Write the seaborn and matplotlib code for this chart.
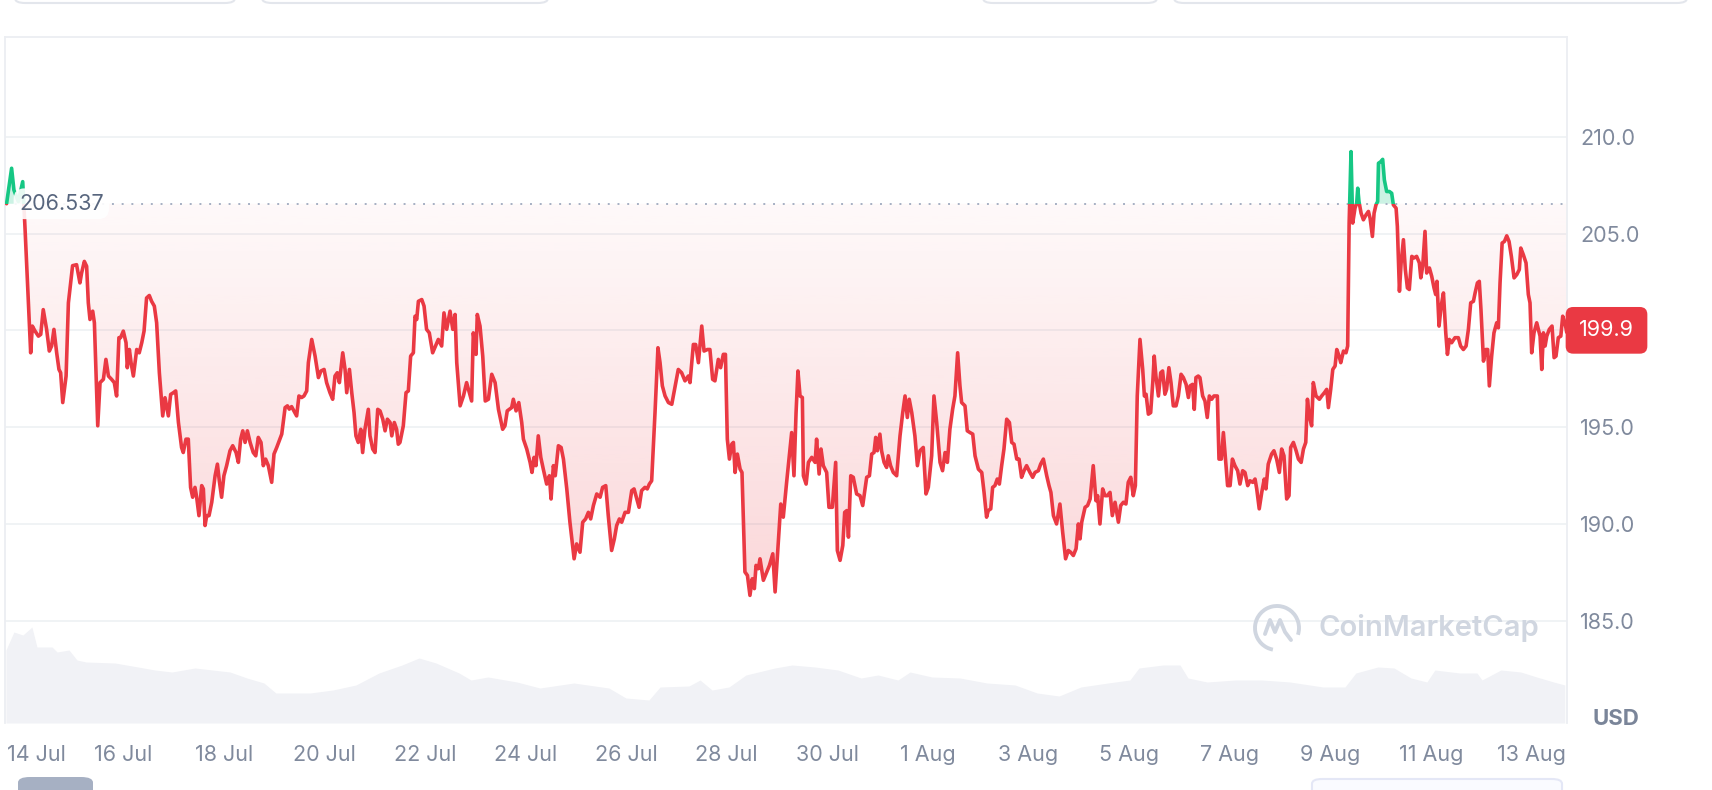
import numpy as np
import pandas as pd
import matplotlib
matplotlib.use('Agg')
import matplotlib.pyplot as plt
import matplotlib.dates as mdates
import matplotlib.transforms as mtransforms
from matplotlib.patches import Rectangle, PathPatch, FancyBboxPatch, Arc
from matplotlib.lines import Line2D
from matplotlib.path import Path
import seaborn as sns

# price (hours after 14 Jul 00:00, USD)
hours_wk1 = [-7.6, -5.2, -4.1, -2.0, 0.1, 1.2, 3.9, 4.7, 6.0, 7.6,
             8.7, 9.9, 11.5, 12.8, 13.9, 15.0, 16.3, 17.4, 18.2, 19.2,
             20.8, 21.9, 23.9, 25.8, 27.4, 28.2, 29.5, 30.6, 31.4, 32.2,
             33.5, 34.3, 35.9, 37.0, 38.6, 39.8, 41.0, 42.5, 43.8, 44.9,
             46.0, 46.8, 48.1, 49.4, 50.0, 51.0, 51.8, 52.9, 54.5, 55.7,
             56.9, 58.0, 59.2, 60.5, 61.6, 62.9, 64.0, 65.3, 66.9, 68.0,
             69.6, 70.7, 72.0, 73.1, 74.4, 75.9, 76.7, 78.0, 79.1, 80.2,
             81.2, 82.3, 83.1, 84.2, 85.5, 86.3, 87.1, 87.9, 89.0, 90.3,
             91.9, 93.0, 93.9, 95.0, 96.1, 97.4, 99.0, 100.3, 101.9, 103.0,
             104.1, 105.1, 106.2, 107.3, 108.6, 110.1, 111.3, 112.5, 113.8, 114.9,
             116.0, 117.3, 118.9, 120.0, 121.3, 122.5, 123.7, 125.3, 126.4, 127.3,
             128.4, 129.5, 130.8, 131.9, 133.2, 134.3, 135.6, 136.4, 138.0, 139.6,
             141.2, 142.4, 143.9, 145.1, 146.7, 148.0, 149.1, 150.2, 151.2, 152.8,
             153.9, 154.7, 156.0, 157.1, 158.2, 159.1, 160.2, 161.4, 162.3, 163.4,
             165.0, 165.8, 167.1, 168.2, 169.5, 170.6, 171.9, 173.0, 174.1, 175.4,
             176.2, 177.4, 178.5, 179.3, 180.1, 181.7, 183.0, 184.1, 185.2, 186.5,
             187.3, 188.1, 188.9, 190.5, 191.6, 192.8, 194.1, 195.7]
price_wk1 = [206.54, 208.37, 207.25, 206.65, 207.68, 205.28, 198.84, 200.22, 199.96, 199.70,
             199.79, 201.07, 200.05, 198.93, 199.19, 200.05, 198.84, 197.98, 197.81, 196.27,
             197.64, 201.42, 203.34, 203.39, 202.45, 202.96, 203.56, 203.31, 201.42, 200.56,
             200.99, 200.39, 195.07, 197.30, 197.47, 198.50, 197.64, 197.47, 197.30, 196.61,
             199.62, 199.62, 199.96, 199.36, 198.07, 199.01, 198.33, 197.64, 199.01, 198.84,
             199.36, 199.96, 201.67, 201.80, 201.50, 201.25, 200.39, 197.81, 195.58, 196.52,
             195.58, 196.69, 196.78, 196.87, 195.24, 193.95, 193.69, 194.38, 194.38, 191.89,
             191.38, 191.89, 191.38, 190.43, 191.98, 191.81, 189.92, 190.43, 190.43, 191.12,
             192.49, 193.09, 192.23, 191.38, 192.49, 193.01, 193.78, 194.04, 193.69, 193.18,
             194.38, 194.81, 194.21, 194.81, 194.21, 193.69, 193.52, 194.47, 194.21, 193.01,
             193.35, 193.01, 192.15, 193.61, 193.95, 194.29, 194.64, 196.01, 196.10, 195.93,
             196.06, 195.84, 195.58, 196.61, 196.53, 196.61, 196.87, 198.33, 199.53, 198.67,
             197.56, 197.90, 197.98, 197.30, 196.78, 196.44, 197.64, 197.81, 197.30, 198.84,
             197.98, 196.78, 197.98, 196.78, 195.75, 194.55, 194.21, 194.89, 193.69, 194.89,
             195.92, 194.55, 193.87, 193.69, 195.92, 195.84, 195.41, 194.81, 195.41, 195.24,
             194.55, 195.24, 194.89, 194.12, 194.21, 195.07, 196.78, 196.87, 198.67, 198.84,
             200.73, 200.56, 201.50, 201.59, 201.25, 200.05, 199.87, 198.84]

hours_wk2 = [198.4, 200.0, 201.1, 202.4, 204.0, 205.3, 206.4, 207.2, 208.8, 210.4,
             211.9, 213.2, 214.3, 215.1, 216.4, 217.0, 218.3, 219.6, 220.8, 222.3,
             223.9, 225.5, 227.1, 229.1, 230.2, 231.3, 233.4, 234.2, 235.5, 236.8,
             238.2, 239.0, 240.6, 242.2, 243.1, 244.1, 245.0, 246.1, 247.3, 248.5,
             250.1, 251.4, 252.2, 253.3, 254.2, 255.7, 257.0, 258.1, 259.7, 261.2,
             263.2, 264.4, 266.0, 267.3, 268.7, 270.0, 271.1, 272.4, 274.0, 275.6,
             276.8, 278.3, 279.5, 281.1, 282.4, 283.5, 284.8, 285.9, 287.5, 289.1,
             290.7, 291.8, 293.1, 294.2, 295.4, 297.0, 298.1, 299.1, 300.2, 301.8,
             303.2, 304.2, 305.3, 306.6, 308.2, 309.8, 311.3, 312.9, 314.5, 316.1,
             317.7, 318.5, 320.1, 321.2, 322.5, 324.1, 325.2, 326.8, 328.0, 329.3,
             330.4, 332.0, 333.1, 334.4, 335.4, 336.3, 337.3, 338.4, 339.2, 340.0,
             341.1, 342.4, 343.3, 344.7, 345.9, 347.1, 348.2, 349.2, 350.0, 351.1,
             351.9, 353.5, 355.1, 356.4, 358.0, 359.1, 360.7, 361.8, 363.0, 364.6,
             367.0, 368.1, 369.1, 370.0, 371.0, 372.1, 372.6, 373.9, 375.0, 376.6,
             378.2, 378.9, 380.1, 381.0, 382.1, 383.7, 384.8, 386.4, 388.0, 388.8,
             390.1, 391.4, 392.3, 393.3, 394.1, 395.2, 396.4, 398.0, 399.6, 400.9]
price_wk2 = [199.53, 199.19, 200.90, 200.05, 200.99, 200.05, 200.82, 198.33, 196.10, 196.61,
             197.30, 196.78, 196.35, 199.87, 198.76, 200.82, 200.22, 198.67, 196.35, 196.44,
             197.73, 197.30, 195.92, 194.89, 195.07, 195.84, 196.01, 196.44, 195.84, 196.27,
             195.24, 194.38, 193.87, 193.18, 192.66, 193.44, 193.01, 194.55, 193.44, 192.83,
             192.06, 192.49, 191.29, 193.01, 192.49, 194.04, 193.95, 193.35, 191.81, 190.09,
             188.20, 188.97, 188.54, 190.09, 190.26, 190.60, 190.26, 190.95, 191.55, 191.38,
             191.89, 191.98, 190.43, 188.63, 189.23, 189.92, 190.26, 190.09, 190.60, 190.60,
             191.72, 191.81, 191.29, 190.86, 191.72, 191.89, 191.81, 192.06, 192.23, 195.75,
             199.10, 198.33, 197.13, 196.61, 196.27, 196.18, 197.04, 197.98, 197.81, 197.39,
             197.64, 197.30, 199.27, 199.27, 198.33, 200.22, 198.93, 199.01, 199.01, 197.47,
             197.39, 198.50, 198.07, 198.76, 198.76, 194.38, 193.35, 194.12, 194.21, 192.66,
             193.61, 192.83, 192.66, 187.52, 187.34, 186.31, 187.17, 186.66, 187.86, 187.69,
             188.20, 187.09, 187.52, 187.86, 188.46, 186.49, 189.23, 191.03, 190.35, 192.15,
             194.72, 192.49, 195.75, 197.90, 196.61, 196.53, 192.49, 192.06, 193.18, 193.44,
             193.18, 194.38, 192.58, 193.87, 193.01, 192.66, 190.86, 190.86, 193.18, 188.63,
             188.12, 188.89, 190.60, 190.69, 189.32, 192.49, 192.41, 191.55, 191.46, 190.95]

hours_wk3 = [402.8, 404.1, 405.2, 406.3, 407.1, 407.9, 409.1, 409.9, 411.1, 412.3,
             413.1, 414.2, 415.5, 417.1, 418.7, 420.0, 421.1, 422.2, 423.1, 424.3,
             425.8, 427.0, 428.2, 429.8, 431.1, 432.2, 433.8, 434.9, 436.2, 437.8,
             439.0, 440.2, 441.3, 442.5, 443.8, 444.9, 446.2, 447.3, 448.1, 449.7,
             450.8, 452.1, 453.4, 454.5, 456.1, 457.7, 458.8, 460.0, 460.8, 462.0,
             462.9, 464.0, 465.1, 466.1, 467.2, 468.3, 469.6, 470.9, 472.0, 473.1,
             474.4, 475.5, 476.7, 477.9, 479.1, 480.7, 482.0, 483.1, 484.7, 485.8,
             487.1, 488.7, 489.8, 490.7, 491.9, 493.4, 495.0, 496.3, 497.7, 499.0,
             500.1, 501.4, 502.7, 503.8, 504.6, 505.4, 507.0, 508.2, 509.4, 510.9,
             512.2, 513.0, 514.1, 515.4, 516.5, 517.6, 518.9, 520.0, 521.3, 522.9,
             524.0, 525.3, 526.5, 527.6, 528.8, 530.0, 531.0, 531.9, 533.2, 534.5,
             535.3, 536.1, 537.2, 538.3, 539.3, 540.0, 540.8, 542.0, 543.1, 544.0,
             545.1, 545.9, 547.0, 548.0, 549.1, 550.4, 551.5, 552.8, 553.9, 555.2,
             556.3, 557.1, 558.3, 559.1, 559.9, 561.0, 561.8, 563.1, 564.2, 565.3,
             566.3, 567.4, 568.5, 570.1, 570.9, 572.0, 573.0, 574.1, 575.0, 576.2,
             577.3, 578.5, 579.8, 580.9, 582.2, 583.3, 584.6, 585.7, 587.0, 588.1,
             588.9, 590.1, 591.3, 592.5, 593.3, 594.4, 596.0, 597.1, 598.4, 599.7,
             600.8, 601.9, 603.2, 604.3, 605.1, 606.4]
price_wk3 = [192.41, 192.49, 193.61, 193.69, 194.47, 193.78, 194.64, 193.78, 193.18, 192.92,
             193.52, 193.01, 192.66, 192.49, 194.55, 195.75, 196.61, 195.50, 196.44, 195.75,
             194.55, 193.01, 193.78, 193.95, 191.55, 191.89, 193.52, 196.61, 195.24, 193.18,
             192.75, 193.69, 193.18, 194.89, 195.92, 196.61, 198.84, 197.13, 196.27, 196.10,
             194.81, 194.72, 194.64, 193.52, 192.83, 192.66, 191.63, 190.35, 190.69, 190.78,
             191.89, 191.98, 192.32, 192.06, 193.01, 193.87, 195.41, 195.24, 194.21, 194.12,
             193.35, 193.35, 192.41, 192.75, 193.01, 192.66, 192.41, 192.66, 192.75, 193.09,
             193.35, 192.49, 191.98, 191.63, 190.43, 190.00, 191.03, 189.58, 188.20, 188.63,
             188.54, 188.37, 188.72, 190.00, 189.23, 190.09, 190.86, 190.95, 191.29, 193.01,
             191.20, 191.46, 190.00, 191.81, 191.46, 191.46, 191.63, 190.43, 191.12, 190.09,
             190.95, 191.12, 191.03, 192.15, 192.41, 191.46, 191.98, 196.61, 199.53, 197.98,
             196.61, 196.70, 195.67, 195.75, 197.30, 198.67, 197.64, 196.61, 197.81, 197.90,
             196.70, 196.95, 198.07, 197.30, 196.10, 196.10, 196.61, 197.73, 197.56, 197.21,
             196.53, 197.13, 197.21, 195.92, 197.56, 197.64, 197.56, 196.61, 196.35, 195.50,
             196.61, 196.44, 196.61, 196.61, 193.35, 193.35, 194.72, 193.18, 191.98, 191.98,
             193.35, 193.01, 192.75, 192.06, 192.75, 192.66, 191.98, 192.23, 192.15, 192.32,
             191.81, 190.78, 191.63, 192.32, 191.81, 193.09, 193.61, 193.78, 193.35, 192.66,
             193.87, 193.52, 191.29, 191.46, 193.95, 194.21]

hours_wk4 = [607.7, 608.8, 610.1, 611.2, 612.3, 613.1, 614.0, 615.1, 615.9, 617.2,
             618.8, 619.9, 621.2, 622.3, 623.1, 624.2, 625.2, 626.3, 627.1, 628.2,
             629.0, 630.3, 631.5, 632.3, 633.0, 633.9, 634.7, 635.8, 636.6, 637.1,
             637.7, 638.7, 639.8, 641.1, 642.2, 643.0, 644.1, 644.9, 645.8, 646.6,
             647.0, 648.1, 649.0, 649.8, 650.9, 652.2, 653.3, 654.1, 655.4, 656.0,
             657.0, 657.8, 658.9, 659.8, 660.8, 661.7, 662.9, 664.0, 665.2, 666.5,
             667.2, 668.1, 669.2, 670.0, 671.3, 672.4, 673.5, 674.3, 674.9, 675.9,
             676.9, 678.0, 679.1, 679.9, 680.8, 681.9, 683.5, 685.1, 686.2, 687.5,
             688.8, 689.9, 691.0, 692.3, 693.1, 694.2, 695.1, 695.9, 697.1, 698.2,
             699.1, 699.9, 701.0, 702.1, 703.4, 704.2, 705.0, 706.0, 707.1, 708.2,
             709.3, 710.4, 711.7, 713.0, 714.2, 714.9, 716.1, 717.4, 718.5, 719.3,
             720.1, 721.2, 722.5, 723.3, 724.1, 724.9, 725.7, 726.5, 727.3, 728.5,
             729.8, 730.8, 731.7, 732.8, 734.0, 734.9, 736.0, 736.8]
price_wk4 = [193.78, 193.35, 193.18, 193.87, 194.21, 196.44, 195.58, 195.07, 197.30, 196.61,
             196.44, 196.61, 196.78, 196.95, 196.01, 196.95, 197.98, 198.16, 199.01, 198.67,
             198.33, 198.93, 198.84, 199.19, 205.54, 209.23, 205.54, 206.31, 206.57, 207.34,
             206.65, 206.05, 205.71, 205.97, 206.14, 205.79, 204.85, 206.05, 206.48, 206.65,
             208.63, 208.71, 208.83, 207.77, 207.17, 207.17, 207.08, 206.48, 206.31, 205.37,
             202.02, 203.48, 204.68, 203.14, 202.19, 202.11, 203.82, 203.74, 203.82, 203.48,
             202.71, 203.31, 205.11, 202.96, 203.22, 202.79, 202.19, 201.85, 202.53, 200.22,
             201.25, 201.93, 199.87, 198.76, 199.53, 199.36, 199.62, 199.62, 199.19, 199.01,
             199.19, 200.05, 201.42, 201.50, 201.93, 202.45, 202.53, 201.07, 198.41, 199.01,
             199.01, 197.13, 198.67, 199.87, 200.39, 200.13, 202.45, 204.51, 204.59, 204.88,
             204.59, 203.82, 202.71, 202.88, 203.14, 204.25, 203.91, 203.48, 201.85, 201.42,
             198.84, 199.87, 200.39, 200.05, 199.70, 197.98, 199.87, 199.19, 199.70, 200.05,
             200.22, 198.59, 198.67, 199.62, 199.70, 200.73, 200.39, 199.90]

# volume strip at the bottom (millions, rough)
vol_hours = [-7.9, -4.1, 0.2, 4.5, 6.9, 14.1, 16.5, 22.2, 26.0, 30.3,
             44.1, 55.1, 63.2, 71.3, 82.3, 99.0, 107.1, 115.2, 120.9, 137.2,
             148.1, 159.1, 170.1, 181.1, 189.2, 197.3, 208.3, 214.0, 222.1, 235.9,
             246.9, 263.1, 279.8, 287.9, 298.9, 304.2, 318.0, 323.3, 329.0, 337.1,
             345.2, 359.0, 367.2, 378.1, 389.1, 400.1, 408.2, 417.7, 423.5, 433.9,
             447.3, 460.2, 473.6, 484.1, 494.6, 505.0, 517.9, 528.4, 532.7, 544.2,
             552.3, 556.1, 565.2, 578.6, 591.4, 604.8, 620.5, 631.0, 636.2, 646.7,
             654.4, 662.5, 670.1, 673.9, 685.8, 694.0, 696.4, 705.4, 714.9, 722.5,
             730.6, 735.9]
vol_musd = [365, 455, 440, 480, 380, 380, 355, 365, 315, 305,
            300, 280, 265, 255, 275, 255, 225, 200, 150, 150,
            165, 190, 250, 290, 325, 300, 250, 215, 230, 205,
            175, 200, 175, 125, 115, 180, 185, 215, 165, 180,
            240, 275, 290, 280, 265, 225, 240, 215, 255, 230,
            225, 200, 190, 150, 135, 180, 200, 215, 275, 290,
            290, 225, 205, 215, 215, 205, 180, 180, 250, 280,
            275, 225, 205, 265, 250, 250, 215, 265, 255, 230,
            205, 190]

open_price = 206.537
last_price = 199.9
price_ticks = [185, 190, 195, 200, 205, 210]
tick_dates = ['2025-07-14', '2025-07-16', '2025-07-18', '2025-07-20', '2025-07-22',
              '2025-07-24', '2025-07-26', '2025-07-28', '2025-07-30', '2025-08-01',
              '2025-08-03', '2025-08-05', '2025-08-07', '2025-08-09', '2025-08-11',
              '2025-08-13']
tick_labels = ['14 Jul', '16 Jul', '18 Jul', '20 Jul', '22 Jul', '24 Jul', '26 Jul',
               '28 Jul', '30 Jul', '1 Aug', '3 Aug', '5 Aug', '7 Aug', '9 Aug',
               '11 Aug', '13 Aug']

sns.set_theme(style='white')
plt.rcParams['font.family'] = ['Inter', 'DejaVu Sans']

RED = '#ea3943'
GREEN = '#16c784'
TXT = '#808a9d'
GRID = '#eff2f5'
FS = 15.5

start = pd.Timestamp('2025-07-14 00:00')
hours = hours_wk1 + hours_wk2 + hours_wk3 + hours_wk4
prices = np.array(price_wk1 + price_wk2 + price_wk3 + price_wk4)
df = pd.DataFrame({'time': start + pd.to_timedelta(hours, unit='h'), 'price': prices})
vol = pd.DataFrame({'time': start + pd.to_timedelta(vol_hours, unit='h'), 'volume': vol_musd})

fig = plt.figure(figsize=(17.12, 7.90), dpi=100)
rect = [5 / 1712, 1 - 723 / 790, 1562 / 1712, 686 / 790]
ax_vol = fig.add_axes(rect)
ax = fig.add_axes(rect, sharex=ax_vol)
ax.patch.set_alpha(0)

xmin = start + pd.Timedelta(hours=-8.35)
xmax = start + pd.Timedelta(hours=736.95)
ymin, ymax = 179.72, 215.15

# volume
ax_vol.fill_between(vol['time'], vol['volume'], 0, color='#f1f2f6', lw=0)
ax_vol.set_ylim(0, 3430)
ax_vol.set_axis_off()

# shaded area between price and the opening price
x0, x1 = mdates.date2num(xmin), mdates.date2num(xmax)
below = ax.fill_between(df['time'], prices, open_price, where=prices <= open_price,
                        interpolate=True, color='none', lw=0)
clip = PathPatch(Path.make_compound_path(*below.get_paths()), transform=ax.transData,
                 fc='none', ec='none')
ax.add_patch(clip)
grad = np.zeros((256, 1, 4))
grad[..., :3] = matplotlib.colors.to_rgb(RED)
grad[:, 0, 3] = np.linspace(0.03, 0.26, 256)
im = ax.imshow(grad, aspect='auto', extent=[x0, x1, ymin, open_price], origin='upper',
               interpolation='bilinear', zorder=1)
im.set_clip_path(clip)
ax.fill_between(df['time'], prices, open_price, where=prices >= open_price,
                interpolate=True, color=GREEN, alpha=0.22, lw=0, zorder=1)

# price line, red under the opening price and green over it
sns.lineplot(data=df, x='time', y='price', ax=ax, color=RED, linewidth=2.6, zorder=3)
ax.lines[-1].set_clip_path(Rectangle((x0, ymin), x1 - x0, open_price - ymin,
                                     transform=ax.transData))
sns.lineplot(data=df, x='time', y='price', ax=ax, color=GREEN, linewidth=2.6, zorder=3)
ax.lines[-1].set_clip_path(Rectangle((x0, open_price), x1 - x0, ymax - open_price,
                                     transform=ax.transData))
for ln in ax.lines:
    ln.set_solid_joinstyle('round')

ax.axhline(open_price, color='#a6b0c3', lw=1.4, ls=(0, (1, 4)), zorder=2)

ax.set_xlim(xmin, xmax)
ax.set_ylim(ymin, ymax)
ax.set_xlabel('')
ax.set_ylabel('')
ax.set_yticks(price_ticks)
# the 200.0 label sits under the last-price box
ax.set_yticklabels(['' if t == 200 else f'{t:.1f}' for t in price_ticks])
ax.set_xticks(pd.to_datetime(tick_dates))
ax.set_xticklabels(tick_labels)
ax.yaxis.tick_right()
ax.grid(axis='y', color=GRID, lw=1.3)
ax.grid(axis='x', visible=False)
ax.set_axisbelow(True)
ax.tick_params(axis='x', length=0, pad=16, labelsize=FS, labelcolor=TXT)
ax.tick_params(axis='y', length=0, pad=9.4, labelsize=FS, labelcolor=TXT)
for side in ['left', 'top', 'right']:
    ax.spines[side].set_color('#eceef2')
    ax.spines[side].set_linewidth(1.3)
ax.spines['bottom'].set_visible(False)

# first date label sits against the left edge
first = ax.get_xticklabels()[0]
first.set_ha('left')
first.set_transform(first.get_transform() +
                    mtransforms.ScaledTranslation(-0.155, 0, fig.dpi_scale_trans))

trans = mtransforms.blended_transform_factory(ax.transAxes, ax.transData)
ax.text(14 / 1562, open_price, f'{open_price:.3f}', transform=trans, ha='left', va='center',
        fontsize=FS, color='#58667e', zorder=5,
        bbox=dict(boxstyle='round,pad=0.25,rounding_size=0.5', fc='white', ec='none', alpha=0.9))
ax.text(1 + 12 / 1562, 200.0, f'{last_price:.1f}', transform=trans, ha='left', va='center',
        fontsize=FS, color='white', zorder=6, clip_on=False,
        bbox=dict(boxstyle='round,pad=0.62,rounding_size=0.35', fc=RED, ec='none'))
ax.text(1 + 25 / 1562, 0.006, 'USD', transform=ax.transAxes, ha='left', va='center',
        fontsize=16, fontweight='bold', color='#7a8599')

# watermark
wm = '#d0d6e0'
fig.text(1318 / 1712, 1 - 628 / 790, 'CoinMarketCap', ha='left', va='center',
         fontsize=21, fontweight='semibold', color=wm)
cx, cy = 1277 / 1712, 1 - 628 / 790
fig.add_artist(Arc((cx, cy), 44 / 1712, 44 / 790, theta1=-35, theta2=265,
                   transform=fig.transFigure, color=wm, lw=2.8))
wave_x = np.array([-12, -7, -2, 3, 8, 14]) / 1712 + cx
wave_y = np.array([-6, 8, -4, 8, -4, -12]) / 790 + cy
fig.add_artist(Line2D(wave_x, wave_y, transform=fig.transFigure, color=wm, lw=2.8,
                      solid_joinstyle='round', solid_capstyle='round'))

# bits of the page around the chart
for left, right in [(15, 235), (262, 548), (983, 1157), (1174, 1687)]:
    fig.add_artist(FancyBboxPatch((left / 1712, 1 - 3 / 790), (right - left) / 1712, 40 / 790,
                                  boxstyle='round,pad=0,rounding_size=0.006',
                                  transform=fig.transFigure, fc='white', ec='#e3e6ec', lw=1.5))
fig.add_artist(FancyBboxPatch((18 / 1712, -20 / 790), 75 / 1712, 33 / 790,
                              boxstyle='round,pad=0,rounding_size=0.007',
                              transform=fig.transFigure, fc='#a6b0c3', ec='none'))
fig.add_artist(FancyBboxPatch((1312 / 1712, -20 / 790), 250 / 1712, 31 / 790,
                              boxstyle='round,pad=0,rounding_size=0.006',
                              transform=fig.transFigure, fc='#fafbff', ec='#e4e7f6', lw=1.5))

fig.savefig('out.png', dpi=100, facecolor='white')
